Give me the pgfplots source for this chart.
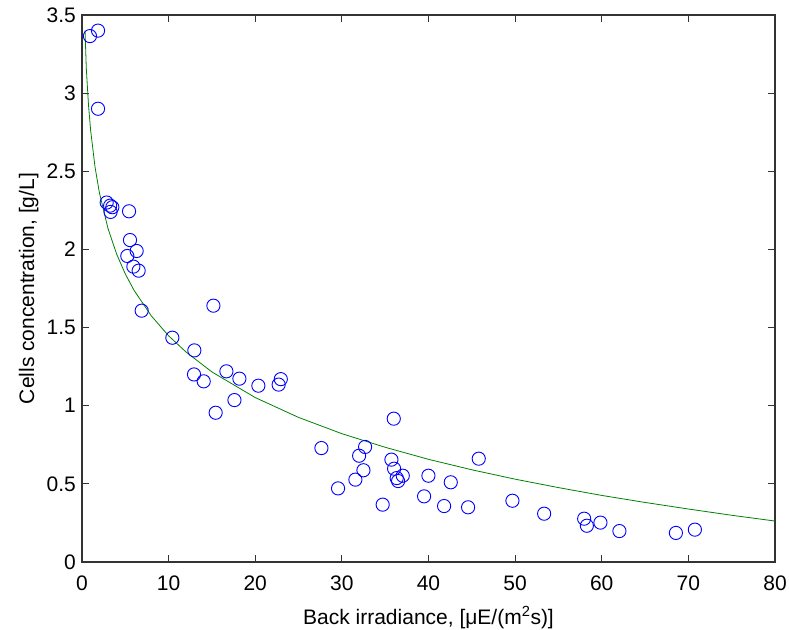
\documentclass[border=0pt]{standalone}
\usepackage{fontspec}
\setmainfont{Liberation Sans}
\usepackage{pgfplots}
\pgfplotsset{compat=1.18}
\definecolor{mblue}{rgb}{0,0,1}
\definecolor{mgreen}{rgb}{0,0.5,0}
\begin{document}
\fontsize{21}{25}\selectfont
\begin{tikzpicture}
\begin{axis}[
  scale only axis, width=693pt, height=547pt,
  xmin=0, xmax=80, ymin=0, ymax=3.5,
  xtick={0,10,...,80}, ytick={0,0.5,...,3.5},
  tick align=inside, major tick length=7pt,
  axis line style={line width=1.2pt, black!80},
  every tick/.style={line width=1pt, black!80},
  /pgf/number format/assume math mode=true,
  ticklabel style={font=\fontsize{21}{25}\selectfont},
  xticklabel style={yshift=-7pt},
  yticklabel style={xshift=1pt},
  label style={font=\fontsize{21}{25}\selectfont},
  xlabel={Back irradiance, [μE/(m\textsuperscript{2}s)]},
  ylabel={Cells concentration, [g/L]},
  xlabel style={yshift=-1pt},
  ylabel shift=-6pt,
]
\addplot[only marks, mark=o, mark size=6.6pt, mblue, line width=0.9pt] coordinates {
(0.92,3.365) (1.85,3.40) (1.85,2.90)
(2.85,2.30) (3.25,2.28) (3.3,2.24) (3.5,2.27)
(5.43,2.244) (5.54,2.06) (6.31,1.99) (5.23,1.958) (5.93,1.89) (6.54,1.864)
(6.89,1.608) (15.17,1.64) (10.43,1.435) (12.97,1.354) (12.93,1.20) (14.05,1.156)
(16.67,1.22) (18.17,1.173) (17.6,1.036) (15.43,0.955) (20.36,1.128)
(22.7,1.135) (22.95,1.17)
(27.64,0.729) (29.56,0.471) (31.99,0.68) (32.68,0.736) (32.49,0.587) (31.56,0.527)
(34.71,0.367) (35.99,0.917) (35.72,0.655) (36.03,0.597) (36.33,0.537) (36.49,0.518)
(37.03,0.552) (39.49,0.42) (39.99,0.552) (41.8,0.358) (42.57,0.51) (44.57,0.35)
(45.8,0.661) (49.69,0.392) (53.35,0.309) (57.97,0.277) (58.28,0.232) (59.85,0.252)
(62.04,0.198) (68.56,0.186) (70.75,0.207)
};
\addplot[mgreen, line width=0.8pt] coordinates {
(0.35,3.40) (0.5,3.155) (0.75,2.924) (1,2.76) (1.5,2.529) (2,2.365) (3,2.134)
(4,1.97) (5,1.843) (6,1.739) (8,1.575) (10,1.447) (12,1.344) (15,1.216)
(20,1.052) (25,0.925) (30,0.821) (35,0.734) (40,0.657) (45,0.59) (50,0.53)
(55,0.476) (60,0.426) (65,0.381) (70,0.339) (75,0.299) (80,0.262)
};
\end{axis}
\pgfresetboundingbox
\useasboundingbox ([shift={(-82pt,-68pt)}]current axis.south west) rectangle ([shift={(14pt,15pt)}]current axis.north east);
\end{tikzpicture}
\end{document}
